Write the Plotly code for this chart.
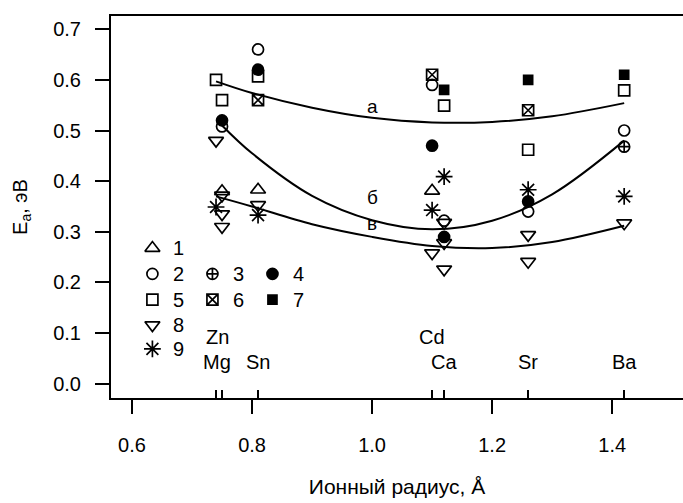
import plotly.graph_objects as go

# ---------------- data ----------------
# ionic radii of the cations (Å), marked by short inner ticks
elem_names = ["Zn", "Mg", "Sn", "Cd", "Ca", "Sr", "Ba"]
elem_r = [0.74, 0.75, 0.81, 1.10, 1.12, 1.26, 1.42]

# experimental points by series (x = ionic radius, y = Ea, eV)
s1_x = [0.75, 0.81, 1.10]
s1_y = [0.38, 0.383, 0.381]
s2_x = [0.75, 0.81, 1.10, 1.12, 1.26, 1.42]
s2_y = [0.508, 0.66, 0.59, 0.322, 0.34, 0.50]
s3_x = [1.42]
s3_y = [0.468]
s4_x = [0.75, 0.81, 1.10, 1.12, 1.26]
s4_y = [0.52, 0.62, 0.47, 0.29, 0.36]
s5_x = [0.74, 0.75, 0.81, 1.12, 1.26, 1.42]
s5_y = [0.60, 0.56, 0.607, 0.549, 0.462, 0.579]
s6_x = [0.81, 1.10, 1.26]
s6_y = [0.56, 0.61, 0.54]
s7_x = [1.12, 1.26, 1.42]
s7_y = [0.58, 0.60, 0.61]
s8_x = [0.74, 0.75, 0.75, 0.75, 0.81, 1.10, 1.12, 1.12, 1.12, 1.26, 1.26, 1.42]
s8_y = [0.48, 0.372, 0.335, 0.31, 0.353, 0.258, 0.318, 0.278, 0.226, 0.294, 0.241, 0.317]
s9_x = [0.74, 0.81, 1.10, 1.12, 1.26, 1.42]
s9_y = [0.349, 0.333, 0.343, 0.409, 0.383, 0.37]

# trend curves a, б, в
curve_a_x = [0.74, 0.80, 0.90, 1.00, 1.10, 1.20, 1.30, 1.42]
curve_a_y = [0.597, 0.574, 0.545, 0.525, 0.516, 0.517, 0.528, 0.554]
curve_b_x = [0.75, 0.80, 0.90, 1.00, 1.10, 1.20, 1.30, 1.42]
curve_b_y = [0.51, 0.455, 0.371, 0.323, 0.305, 0.322, 0.374, 0.48]
curve_v_x = [0.74, 0.80, 0.90, 1.00, 1.10, 1.20, 1.30, 1.42]
curve_v_y = [0.37, 0.35, 0.315, 0.29, 0.272, 0.268, 0.28, 0.312]
curve_names = ["а", "б", "в"]

series_names = ["1", "2", "3", "4", "5", "6", "7", "8", "9"]

x_ticks = [0.6, 0.8, 1.0, 1.2, 1.4]
y_ticks = [0.0, 0.1, 0.2, 0.3, 0.4, 0.5, 0.6, 0.7]

# ---------------- styles ----------------
FONT = "Liberation Sans, Arial, sans-serif"
BLACK = "black"
styles = {
    "1": dict(symbol="triangle-up-open", size=13),
    "2": dict(symbol="circle-open", size=11),
    "3": dict(symbol="circle-cross-open", size=11),
    "4": dict(symbol="circle", size=11),
    "5": dict(symbol="square-open", size=11),
    "6": dict(symbol="square-x-open", size=11),
    "7": dict(symbol="square", size=9),
    "8": dict(symbol="triangle-down-open", size=13),
    "9": dict(symbol="asterisk-open", size=14),
}
series_xy = {
    "1": (s1_x, s1_y), "2": (s2_x, s2_y), "3": (s3_x, s3_y),
    "4": (s4_x, s4_y), "5": (s5_x, s5_y), "6": (s6_x, s6_y),
    "7": (s7_x, s7_y), "8": (s8_x, s8_y), "9": (s9_x, s9_y),
}

XR = [0.565, 1.518]
YR = [-0.028, 0.726]

fig = go.Figure()

# curves
for nm, cx, cy in zip(curve_names, [curve_a_x, curve_b_x, curve_v_x],
                      [curve_a_y, curve_b_y, curve_v_y]):
    fig.add_trace(go.Scatter(x=cx, y=cy, mode="lines", name=nm,
                             line=dict(color=BLACK, width=2, shape="spline", smoothing=1.0),
                             showlegend=False, hoverinfo="skip"))

# points
for nm in series_names:
    xs, ys = series_xy[nm]
    st = styles[nm]
    fig.add_trace(go.Scatter(
        x=xs, y=ys, mode="markers", name=nm, showlegend=False,
        marker=dict(symbol=st["symbol"], size=st["size"], color=BLACK,
                    line=dict(color=BLACK, width=1.7))))

# in-plot legend (layout positions)
legend_pos = {
    "1": (0.634, 0.268), "2": (0.634, 0.217), "3": (0.734, 0.217), "4": (0.834, 0.217),
    "5": (0.634, 0.166), "6": (0.734, 0.166), "7": (0.834, 0.166),
    "8": (0.634, 0.116), "9": (0.634, 0.069),
}
for nm in series_names:
    lx, ly = legend_pos[nm]
    st = styles[nm]
    fig.add_trace(go.Scatter(
        x=[lx], y=[ly], mode="markers", showlegend=False, hoverinfo="skip",
        marker=dict(symbol=st["symbol"], size=st["size"], color=BLACK,
                    line=dict(color=BLACK, width=1.7))))
    fig.add_annotation(x=lx + 0.043, y=ly, text=nm, showarrow=False,
                       font=dict(family=FONT, size=20, color=BLACK),
                       xanchor="center", yanchor="middle")

# curve labels
curve_label_pos = {"а": (1.0, 0.547), "б": (1.0, 0.367), "в": (1.0, 0.317)}
for nm in curve_names:
    cx, cy = curve_label_pos[nm]
    fig.add_annotation(x=cx, y=cy, text=nm, showarrow=False,
                       font=dict(family=FONT, size=19, color=BLACK),
                       xanchor="center", yanchor="middle")

# element labels
elem_label_pos = {"Zn": (0.742, 0.093), "Cd": (1.099, 0.093),
                  "Mg": (0.742, 0.043), "Sn": (0.81, 0.043), "Ca": (1.12, 0.043),
                  "Sr": (1.26, 0.043), "Ba": (1.42, 0.043)}
for nm in elem_names:
    ex, ey = elem_label_pos[nm]
    fig.add_annotation(x=ex, y=ey, text=nm, showarrow=False,
                       font=dict(family=FONT, size=20, color=BLACK),
                       xanchor="center", yanchor="middle")

fig.update_layout(
    width=683, height=503,
    margin=dict(l=111, r=0, t=16, b=105),
    paper_bgcolor="white", plot_bgcolor="white",
    font=dict(family=FONT, size=20, color=BLACK),
    showlegend=False,
    xaxis=dict(range=XR, tickvals=x_ticks, ticktext=[f"{v:.1f}" for v in x_ticks],
               ticks="outside", ticklen=14, tickwidth=2, tickcolor=BLACK,
               showline=True, linewidth=2, linecolor=BLACK, mirror=True,
               showgrid=False, zeroline=False, ticklabelstandoff=14,
               tickfont=dict(size=20),
               title=dict(text="Ионный радиус, Å", font=dict(size=21), standoff=24)),
    xaxis2=dict(range=XR, overlaying="x", anchor="y", side="bottom",
                tickvals=elem_r, ticks="inside", ticklen=8, tickwidth=2, tickcolor=BLACK,
                showticklabels=False, showgrid=False, zeroline=False, showline=False),
    yaxis=dict(range=YR, tickvals=y_ticks, ticktext=[f"{v:.1f}" for v in y_ticks],
               ticks="outside", ticklen=14, tickwidth=2, tickcolor=BLACK,
               showline=True, linewidth=2, linecolor=BLACK, mirror=False,
               showgrid=False, zeroline=False, ticklabelstandoff=10,
               tickfont=dict(size=20),
               title=dict(text="E<sub>a</sub>, эВ", font=dict(size=20), standoff=20)),
)
# trace bound to the secondary x axis so its element ticks are drawn
fig.add_trace(go.Scatter(x=[elem_r[0]], y=[None], xaxis="x2", yaxis="y",
                         showlegend=False, hoverinfo="skip", mode="markers"))

fig.write_html("out.html")
